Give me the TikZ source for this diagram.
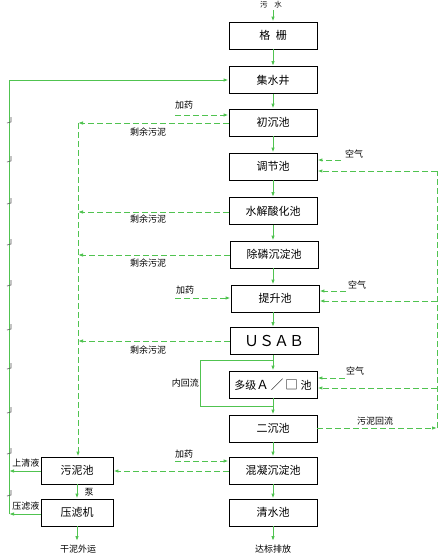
\documentclass[tikz,border=0pt]{standalone}
\usepackage{fontspec}
\newfontfamily\cjk{Noto Sans CJK SC}
\usetikzlibrary{arrows.meta}
\definecolor{lg}{RGB}{80,195,80}
\begin{document}
\begin{tikzpicture}[x=1pt,y=-1pt,
  box/.style={draw=black,line width=0.9pt,minimum width=88pt,minimum height=27pt,inner sep=0pt,font=\cjk\fontsize{11}{13}\selectfont},
  sbox/.style={box,minimum width=72pt},
  flow/.style={draw=lg,line width=1pt,-{Latex[length=5pt,width=3.5pt]}},
  dflow/.style={flow,dash pattern=on 6pt off 3pt},
  dline/.style={draw=lg,line width=1pt,dash pattern=on 6pt off 3pt},
  sline/.style={draw=lg,line width=1pt},
  lbl/.style={font=\cjk\fontsize{9}{10}\selectfont,inner sep=0pt}]
\useasboundingbox (0,0) rectangle (447,557);
\fill[white] (0,0) rectangle (447,557);

% main boxes
\node[box] (gz)   at (273,35.5)  {格\hspace{0.5em}栅};
\node[box] (jsj)  at (273,80)    {集水井};
\node[box] (ccc)  at (273,122.5) {初沉池};
\node[box] (tjc)  at (273,166.5) {调节池};
\node[box] (sj)   at (273,211)   {水解酸化池};
\node[box] (clc)  at (274,254.5) {除磷沉淀池};
\node[box] (tsc)  at (275,298.5) {提升池};
\node[box] (usab) at (274,341)   {\fontsize{15}{15}\selectfont ＵＳＡＢ};
\node[box] (ao)   at (273,384.5) {多级\fontsize{12.5}{13}\selectfont Ａ\,／\,□\ \fontsize{11}{13}\selectfont 池};
\node[box] (ecc)  at (273,428.5) {二沉池};
\node[box] (hn)   at (273,470.5) {混凝沉淀池};
\node[box] (qs)   at (273,512.5) {清水池};
\node[sbox] (wnc) at (77,470.5)  {污泥池};
\node[sbox] (ylj) at (77,512.5)  {压滤机};

% top / bottom texts
\node[font=\cjk\fontsize{7.5}{8}\selectfont,inner sep=0pt,anchor=north] (ws) at (271,0.8) {污\hspace{0.9em}水};
\coordinate (top) at (273,10);
\coordinate (e1) at (273,541);
\coordinate (e2) at (77,541);
\node[lbl] (db) at (273,549) {达标排放};
\node[lbl] (gn) at (78,549) {干泥外运};

% main flow
\draw[flow] (top) -- (gz);
\foreach \a/\b in {gz/jsj,jsj/ccc,ccc/tjc,tjc/sj,sj/clc,clc/tsc,tsc/usab,usab/ao,ao/ecc,ecc/hn,hn/qs}
  \draw[flow] (\a.south -| 273,0) -- (\b.north -| 273,0);
\draw[flow] (qs) -- (e1);
\draw[flow] (ylj) -- (e2);
\draw[flow] (wnc) -- (ylj);
\node[lbl] (beng) at (89,492) {泵};

% inner recycle loop
\coordinate (n1) at (273,360);
\coordinate (n2) at (200,360);
\coordinate (n3) at (200,406);
\coordinate (n4) at (273,406);
\draw[sline] (n1) -- (n2) -- (n3) -- (n4);
\node[lbl,anchor=east] (nhl) at (199,383) {内回流};

% left solid return line
\coordinate (s1) at (9,80);
\coordinate (s2) at (9,514);
\coordinate (s3) at (9,471);
\draw[flow] (ylj.west |- s2) -- (s2);
\draw[flow] (wnc.west |- s3) -- (s3);
\draw[flow] (s2) -- (s1) -- (jsj.west);
\foreach \t in {122,161,203,244,285,329,368,412,453,495}
  \draw[black!65,line width=0.6pt] (11,\t-5) -- (11,\t) -- (7,\t+1);
\node[lbl] (sqy) at (26,463) {上清液};
\node[lbl] (ylY) at (26,506) {压滤液};

% left sludge collector
\coordinate (k1) at (78,123);
\coordinate (k2) at (78,212);
\coordinate (k3) at (78,255);
\coordinate (k4) at (78,341);
\draw[dflow] (ccc.west |- k1) -- (k1);
\draw[dflow] (sj.west |- k2) -- (k2);
\draw[dflow] (clc.west |- k3) -- (k3);
\draw[dflow] (usab.west |- k4) -- (k4);
\draw[dflow] (k1) -- (k1 |- wnc.north);
\node[lbl] (r1l) at (148,132) {剩余污泥};
\node[lbl] (r2l) at (148,219) {剩余污泥};
\node[lbl] (r3l) at (148,263) {剩余污泥};
\node[lbl] (r4l) at (148,350) {剩余污泥};

% dosing
\coordinate (d1) at (175,115);
\coordinate (d2) at (175,298);
\coordinate (d3) at (175,461);
\draw[dflow] (d1) -- (ccc.west |- d1);
\draw[dflow] (d2) -- (tsc.west |- d2);
\draw[dflow] (d3) -- (hn.west |- d3);
\node[lbl] (j1) at (184,105) {加药};
\node[lbl] (j2) at (185,290) {加药};
\node[lbl] (j3) at (184,454) {加药};
\coordinate (m1) at (0,471);
\draw[dflow] (hn.west |- m1) -- (wnc.east |- m1);

% air
\coordinate (a1) at (341,160);
\coordinate (a2) at (346,291);
\coordinate (a3) at (345,378);
\draw[dflow] (a1) -- (tjc.east |- a1);
\draw[dflow] (a2) -- (tsc.east |- a2);
\draw[dflow] (a3) -- (ao.east |- a3);
\node[lbl] (k1l) at (354,154) {空气};
\node[lbl] (k2l) at (357,285) {空气};
\node[lbl] (k3l) at (355,371) {空气};

% right sludge return
\coordinate (r0) at (437,428);
\coordinate (r1) at (437,171);
\coordinate (r2) at (437,301);
\coordinate (r3) at (437,388);
\draw[dflow] (ecc.east |- r0) -- (r0);
\draw[dline] (r0) -- (r1);
\draw[dflow] (r1) -- (tjc.east |- r1);
\draw[dflow] (r2) -- (tsc.east |- r2);
\draw[dflow] (r3) -- (ao.east |- r3);
\node[lbl] (whl) at (375,421) {污泥回流};
\end{tikzpicture}
\end{document}
